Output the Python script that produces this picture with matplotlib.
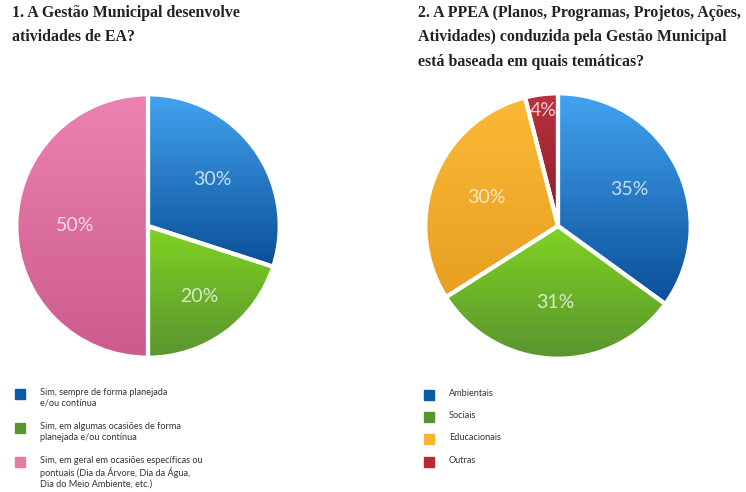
import numpy as np
import matplotlib
matplotlib.use('Agg')
import matplotlib.pyplot as plt
from matplotlib.patches import Wedge, Rectangle
from matplotlib.colors import LinearSegmentedColormap

# pergunta 1
titulo1 = '1. A Gestão Municipal desenvolve\natividades de EA?'
rotulos1 = ['Sim, sempre de forma planejada\ne/ou contínua',
            'Sim, em algumas ocasiões de forma\nplanejada e/ou contínua',
            'Sim, em geral em ocasiões específicas ou\npontuais (Dia da Árvore, Dia da Água,\nDia do Meio Ambiente, etc.)']
valores1 = [30, 20, 50]

# pergunta 2
titulo2 = '2. A PPEA (Planos, Programas, Projetos, Ações,\nAtividades) conduzida pela Gestão Municipal\nestá baseada em quais temáticas?'
rotulos2 = ['Ambientais', 'Sociais', 'Educacionais', 'Outras']
valores2 = [35, 31, 30, 4]

# cores da legenda e gradiente (topo, base) de cada fatia
cores1 = ['#0b5aa6', '#58952e', '#e97aa6']
grad1 = [('#43a3f0', '#0a4f98'), ('#7fd322', '#5a9430'), ('#ec82b0', '#cc5b8c')]
cores2 = ['#0b5aa6', '#58952e', '#fbb52c', '#b72b33']
grad2 = [('#43a3f0', '#0a4f98'), ('#7fd322', '#5a9430'),
         ('#fbb935', '#e89f22'), ('#b9333f', '#8e1c2a')]

W, H = 746, 492
fig = plt.figure(figsize=(W / 100, H / 100), dpi=100)
fig.patch.set_facecolor('white')


def pizza(cx, cy, r, valores, cores, grad, dists):
    ax = fig.add_axes([(cx - r) / W, 1 - (cy + r) / H, 2 * r / W, 2 * r / H])
    wedges, _ = ax.pie(valores, colors=cores, startangle=90, counterclock=False,
                       radius=1, wedgeprops=dict(linewidth=0))
    for w, (c0, c1), v, d in zip(wedges, grad, valores, dists):
        ext = w.get_path().get_extents()
        cmap = LinearSegmentedColormap.from_list('g', [c0, c1])
        img = ax.imshow(np.linspace(0, 1, 100).reshape(-1, 1), cmap=cmap,
                        extent=(ext.x0, ext.x1, ext.y0, ext.y1), origin='upper',
                        aspect='auto', zorder=2)
        img.set_clip_path(w)
        borda = Wedge(w.center, w.r, w.theta1, w.theta2, fill=False,
                      edgecolor='white', linewidth=3, zorder=3)
        ax.add_patch(borda)
        ang = np.deg2rad((w.theta1 + w.theta2) / 2)
        ax.text(d * np.cos(ang), d * np.sin(ang), f'{v}%', ha='center', va='center',
                fontsize=14, color='white', alpha=0.75, family='Lato', zorder=4)
    ax.set_xlim(-1.01, 1.01)
    ax.set_ylim(-1.01, 1.01)
    ax.set_aspect('equal')
    ax.axis('off')


pizza(148, 226, 133, valores1, cores1, grad1, [0.6, 0.66, 0.55])
pizza(558, 226, 134, valores2, cores2, grad2, [0.6, 0.58, 0.58, 0.88])

# títulos
fig.text(12 / W, 1 - 5 / H, titulo1, ha='left', va='top', fontsize=11.4,
         family='Liberation Serif', weight='bold', color='#222222', linespacing=1.7)
fig.text(418 / W, 1 - 5 / H, titulo2, ha='left', va='top', fontsize=11.4,
         family='Liberation Serif', weight='bold', color='#222222', linespacing=1.7)


def legenda(x, ys, rotulos, cores):
    for y, rot, c in zip(ys, rotulos, cores):
        fig.patches.append(Rectangle((x / W, 1 - (y + 5) / H), 10 / W, 10 / H,
                                     color=c, transform=fig.transFigure, figure=fig))
        fig.text((x + 25) / W, 1 - (y - 6) / H, rot, ha='left', va='top', fontsize=6.6,
                 family='Lato', color='#333333', linespacing=1.25)


legenda(15, [394, 428, 462], rotulos1, cores1)
legenda(424, [395, 417, 439, 462], rotulos2, cores2)

fig.savefig('out.png', dpi=100)
